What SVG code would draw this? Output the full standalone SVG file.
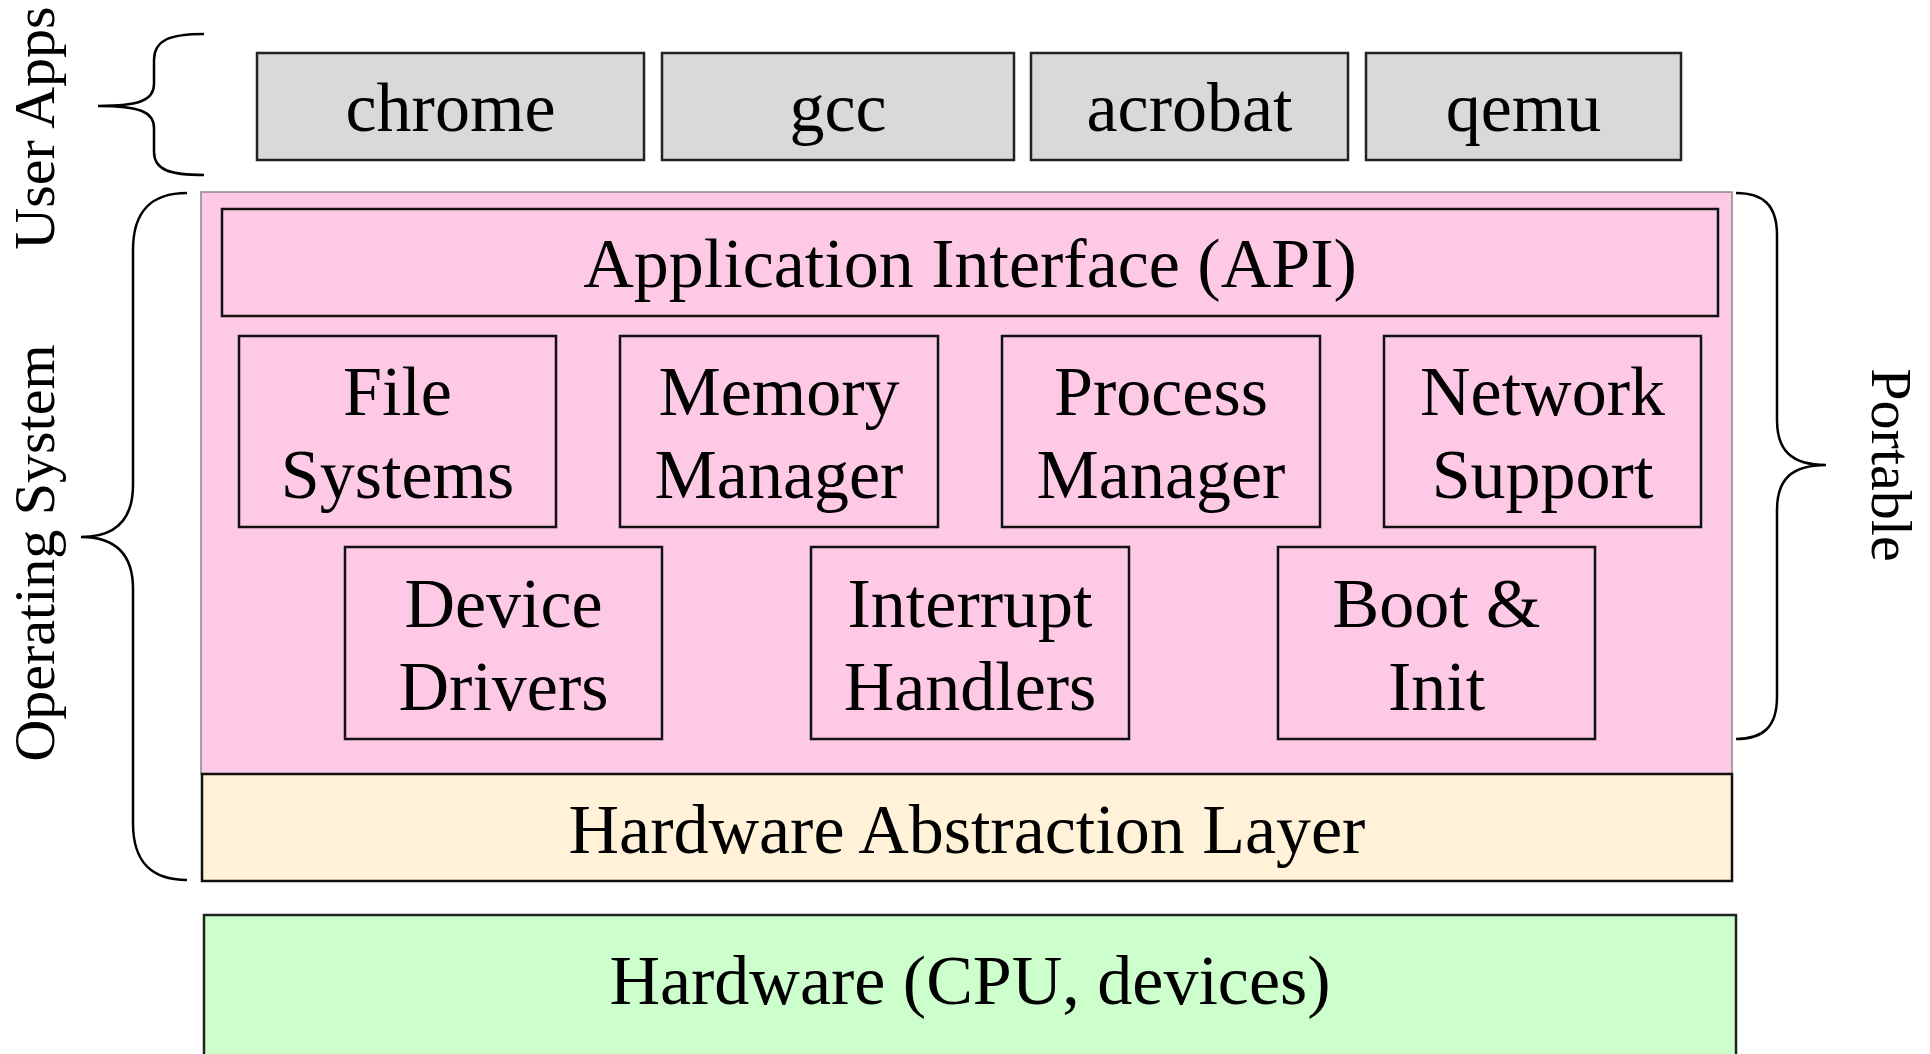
<svg xmlns="http://www.w3.org/2000/svg" width="1930" height="1054" viewBox="0 0 1930 1054">
<style>
text{font-family:"Liberation Serif","Times New Roman",serif;fill:#000;}
.t{font-size:70px;text-anchor:middle;}
.side{font-size:58px;text-anchor:middle;}
.app{fill:#d9d9d9;stroke:#222;stroke-width:2.5;}
.os{fill:#fdc9e4;stroke:#888;stroke-width:1.5;}
.mod{fill:#fdc9e4;stroke:#111;stroke-width:2.5;}
.hal{fill:#fff2d8;stroke:#111;stroke-width:2.5;}
.hw{fill:#ccffcc;stroke:#222;stroke-width:2.5;}
.brace{fill:none;stroke:#000;stroke-width:2.5;}
</style>
<rect width="1930" height="1054" fill="#fff"/>
<g id="labels">
<text class="side" transform="translate(54,128) rotate(-90)">User Apps</text>
<text class="side" transform="translate(54,553) rotate(-90)">Operating System</text>
<text class="side" transform="translate(1872,465) rotate(90)">Portable</text>
</g>
<g id="connectors">
<path class="brace" d="M 204 34 C 170 34 154 40 154 60 L 154 84 C 154 100 140 106 98 106 C 140 106 154 112 154 128 L 154 152 C 154 170 170 175 204 175"/>
<path class="brace" d="M 187 193 C 152 193 133 210 133 250 L 133 485 C 133 520 115 537 81 537 C 115 537 133 554 133 589 L 133 823 C 133 863 152 880 187 880"/>
<path class="brace" d="M 1736 193 C 1763 193 1777 205 1777 235 L 1777 420 C 1777 450 1791 465 1826 465 C 1791 465 1777 480 1777 510 L 1777 697 C 1777 727 1763 739 1736 739"/>
</g>
<g id="chrome"><rect class="app" x="257" y="53" width="387" height="107"/><text class="t" x="450.5" y="131">chrome</text></g>
<g id="gcc"><rect class="app" x="662" y="53" width="352" height="107"/><text class="t" x="838" y="131">gcc</text></g>
<g id="acrobat"><rect class="app" x="1031" y="53" width="317" height="107"/><text class="t" x="1189.5" y="131">acrobat</text></g>
<g id="qemu"><rect class="app" x="1366" y="53" width="315" height="107"/><text class="t" x="1523.5" y="131">qemu</text></g>
<g id="os"><rect class="os" x="201" y="192" width="1531" height="582"/></g>
<g id="api"><rect class="mod" x="222" y="209" width="1496" height="107"/><text class="t" x="970" y="287">Application Interface (API)</text></g>
<g id="fs"><rect class="mod" x="239" y="336" width="317" height="191"/><text class="t" x="397.5" y="415">File</text><text class="t" x="397.5" y="498">Systems</text></g>
<g id="mm"><rect class="mod" x="620" y="336" width="318" height="191"/><text class="t" x="779" y="415">Memory</text><text class="t" x="779" y="498">Manager</text></g>
<g id="pm"><rect class="mod" x="1002" y="336" width="318" height="191"/><text class="t" x="1161" y="415">Process</text><text class="t" x="1161" y="498">Manager</text></g>
<g id="ns"><rect class="mod" x="1384" y="336" width="317" height="191"/><text class="t" x="1542.5" y="415">Network</text><text class="t" x="1542.5" y="498">Support</text></g>
<g id="dd"><rect class="mod" x="345" y="547" width="317" height="192"/><text class="t" x="503.5" y="627">Device</text><text class="t" x="503.5" y="710">Drivers</text></g>
<g id="ih"><rect class="mod" x="811" y="547" width="318" height="192"/><text class="t" x="970" y="627">Interrupt</text><text class="t" x="970" y="710">Handlers</text></g>
<g id="bi"><rect class="mod" x="1278" y="547" width="317" height="192"/><text class="t" x="1436.5" y="627">Boot &amp;</text><text class="t" x="1436.5" y="710">Init</text></g>
<g id="hal"><rect class="hal" x="202" y="774" width="1530" height="107"/><text class="t" x="967" y="853">Hardware Abstraction Layer</text></g>
<g id="hw"><rect class="hw" x="204" y="915" width="1532" height="160"/><text class="t" x="970" y="1004">Hardware (CPU, devices)</text></g>
</svg>
